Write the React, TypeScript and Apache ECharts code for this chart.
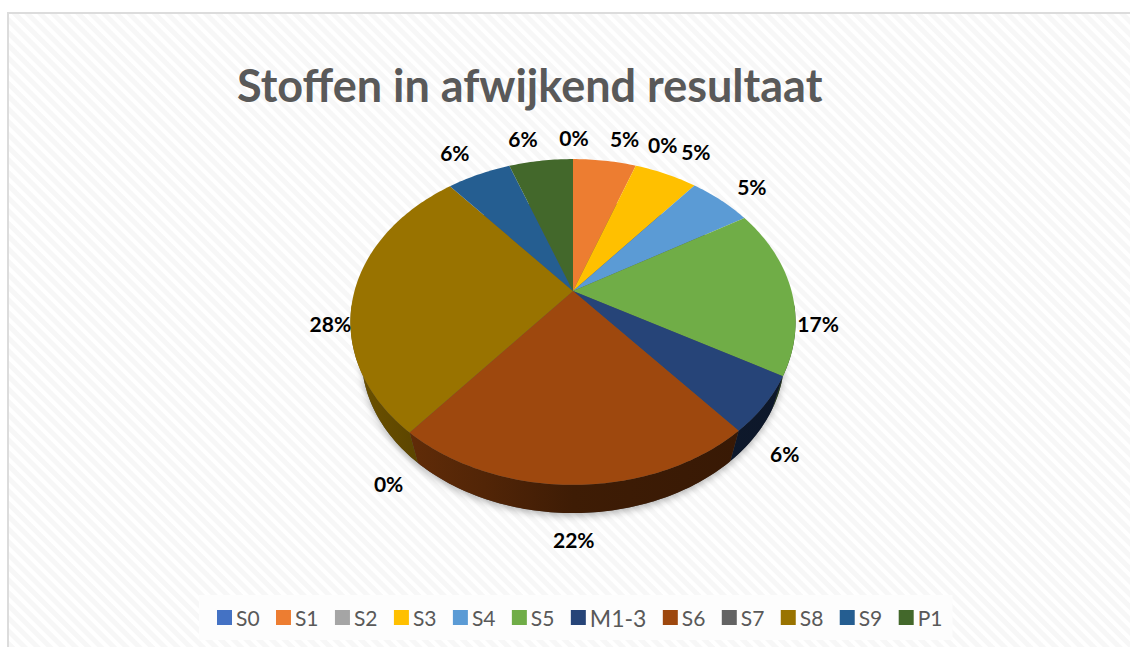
import React, { useEffect, useRef } from "react";
import * as echarts from "echarts";

const categories = ["S0", "S1", "S2", "S3", "S4", "S5", "M1-3", "S6", "S7", "S8", "S9", "P1"];
const shares = [0, 5.49, 0, 5.49, 5.49, 16.67, 5.57, 22.22, 0, 27.78, 5.57, 5.57];
const colors = ["#4472c4", "#ed7d31", "#a5a5a5", "#ffc000", "#5b9bd5", "#70ad47", "#264478", "#9e480e", "#636363", "#997300", "#255e91", "#43682b"];
const chartTitle = "Stoffen in afwijkend resultaat";

// layout of the tilted pie
const APEX_X = 573;
const APEX_Y = 291;
const TILT_X = 218.5;
const TILT_Y = 157;
const PERSP = 0.19;
const BASE_SX = 0.95;
const BASE_SY = 0.96;
const BASE_DROP = 36;
const FONT = "Lato, 'Open Sans', sans-serif";
const labelNudge: number[][] = [
  [1, -22], [20, -22], [27, -21], [30, -22], [31, -14], [27, 34],
  [20, 49], [-1, 55], [-21, 51], [-24, 32], [-24, -22], [-18, -22],
];

const total = shares.reduce((a, b) => a + b, 0);
const starts: number[] = [];
shares.reduce((acc, v, i) => {
  starts[i] = acc;
  return acc + (v / total) * 360;
}, 0);
const endOf = (i: number) => starts[i] + (shares[i] / total) * 360;

function rim(deg: number): number[] {
  const t = (deg * Math.PI) / 180;
  const d = 1 + PERSP * Math.cos(t);
  return [(TILT_X * Math.sin(t)) / d, (-TILT_Y * Math.cos(t)) / d];
}
const top = (deg: number) => {
  const p = rim(deg);
  return [APEX_X + p[0], APEX_Y + p[1]];
};
const base = (deg: number) => {
  const p = rim(deg);
  return [APEX_X + p[0] * BASE_SX, APEX_Y + p[1] * BASE_SY + BASE_DROP];
};
function arc(a: number, b: number, f: (d: number) => number[]) {
  const pts: number[][] = [];
  const n = Math.max(1, Math.ceil(Math.abs(b - a)));
  for (let k = 0; k <= n; k++) pts.push(f(a + ((b - a) * k) / n));
  return pts;
}
function shade(hex: string, f: number) {
  const n = parseInt(hex.slice(1), 16);
  const c = [(n >> 16) & 255, (n >> 8) & 255, n & 255].map((v) => Math.round(v * f));
  return `rgb(${c[0]},${c[1]},${c[2]})`;
}

export default function App() {
  const ref = useRef<HTMLDivElement>(null);
  useEffect(() => {
    const chart = echarts.init(ref.current!, undefined, { renderer: "svg" });
    const shadowSeries = {
      type: "custom",
      name: "Schaduw",
      coordinateSystem: "none",
      silent: true,
      data: [0],
      renderItem: () => ({
        type: "polygon",
        shape: { points: arc(0, 360, base) },
        style: { fill: "#555", shadowBlur: 7, shadowColor: "rgba(0,0,0,0.28)", shadowOffsetY: 3 },
      }),
    };
    const wallSeries = {
      type: "custom",
      name: "Rand",
      coordinateSystem: "none",
      silent: true,
      data: shares,
      renderItem: (_p: any) => {
        const i = _p.dataIndex;
        const a = Math.max(starts[i], 95);
        const b = Math.min(endOf(i), 265);
        if (shares[i] === 0 || b <= a) return { type: "group", children: [] };
        const fill = new echarts.graphic.LinearGradient(
          APEX_X - 223, 0, APEX_X + 223, 0,
          [
            { offset: 0, color: shade(colors[i], 0.72) },
            { offset: 0.15, color: shade(colors[i], 0.6) },
            { offset: 0.3, color: shade(colors[i], 0.52) },
            { offset: 0.5, color: shade(colors[i], 0.39) },
            { offset: 1, color: shade(colors[i], 0.34) },
          ],
          true as any,
        );
        return {
          type: "polygon",
          shape: { points: [...arc(a, b, top), ...arc(b, a, base)] },
          style: { fill },
        };
      },
    };
    const sliceSeries = categories.map((name, i) => ({
      type: "custom",
      name,
      coordinateSystem: "none",
      silent: true,
      itemStyle: { color: colors[i] },
      data: [shares[i]],
      renderItem: () => {
        const mid = (starts[i] + endOf(i)) / 2;
        const anchor = top(mid);
        const children: any[] = [];
        if (shares[i] > 0) {
          children.push({
            type: "polygon",
            shape: { points: [[APEX_X, APEX_Y], ...arc(starts[i], endOf(i), top)] },
            style: { fill: colors[i] },
          });
        }
        children.push({
          type: "text",
          z2: 10,
          style: {
            x: anchor[0] + labelNudge[i][0],
            y: anchor[1] + labelNudge[i][1],
            text: `${Math.round((shares[i] / total) * 100)}%`,
            font: `bold 21px ${FONT}`,
            fill: "#000",
            align: "center",
            verticalAlign: "middle",
          },
        });
        return { type: "group", children };
      },
    }));
    chart.setOption({
      animation: false,
      backgroundColor: "transparent",
      title: {
        text: chartTitle,
        left: 237,
        top: 62,
        padding: 0,
        textStyle: { color: "#595959", fontFamily: FONT, fontWeight: "bold", fontSize: 45 },
      },
      legend: {
        data: categories,
        left: 199,
        top: 595,
        padding: [11, 10, 11, 18],
        itemGap: 16.4,
        itemWidth: 15,
        itemHeight: 15,
        icon: "rect",
        selectedMode: false,
        backgroundColor: "#fdfdfd",
        formatter: (n: string) => (n === "M1-3" ? `{w|${n}}` : n),
        textStyle: {
          color: "#595959",
          fontFamily: FONT,
          fontSize: 21,
          padding: [0, 0, 0, -1],
          rich: { w: { width: 59, fontSize: 23, color: "#595959", fontFamily: FONT } },
        },
      },
      series: [shadowSeries, wallSeries, ...sliceSeries],
    });
    return () => chart.dispose();
  }, []);
  return (
    <div style={{ position: "absolute", left: 0, top: 0, width: 1130, height: 647, overflow: "hidden", background: "#fff" }}>
      <div
        style={{
          position: "absolute",
          left: 7,
          top: 12,
          width: 1123,
          height: 635,
          boxSizing: "border-box",
          borderLeft: "2px solid #dcdcdc",
          borderTop: "2px solid #dcdcdc",
          background: "repeating-linear-gradient(45deg,#f7f7f7 0 4px,#ffffff 5px 8px,#f7f7f7 9px)",
        }}
      />
      <div ref={ref} style={{ position: "absolute", left: 0, top: 0, width: 1130, height: 647 }} />
    </div>
  );
}
